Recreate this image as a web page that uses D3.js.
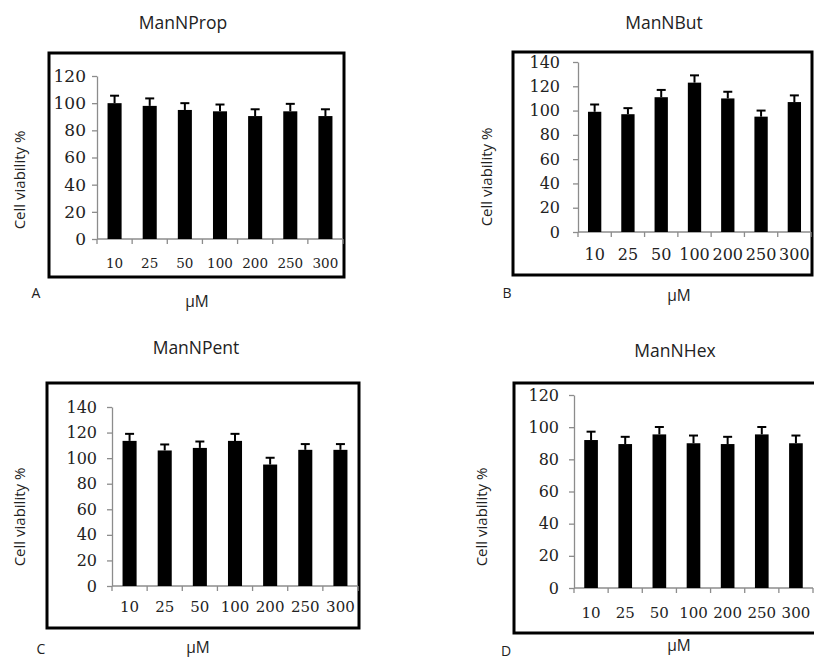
<!DOCTYPE html>
<html>
<head>
<meta charset="utf-8">
<script src="https://cdn.jsdelivr.net/npm/d3@7/dist/d3.min.js"></script>
<style>
  html, body { margin: 0; padding: 0; background: #fff; }
  svg { display: block; }
</style>
</head>
<body>
<svg id="chart" width="814" height="659"></svg>
<script>
// ---- data ----
const concentrations = ["10", "25", "50", "100", "200", "250", "300"];
const titles = ["ManNProp", "ManNBut", "ManNPent", "ManNHex"];
const panelLetters = ["A", "B", "C", "D"];
const yTitles = ["Cell viability  %", "Cell viability %", "Cell viability  %", "Cell viability %"];
const xTitle = "μM";

const manNPropMean = [100, 98, 95, 94, 90.5, 94, 90.5];
const manNPropErr  = [5.5, 5.5, 5, 5, 5, 5.5, 5];
const manNButMean  = [99, 97, 111, 123, 110, 95, 107];
const manNButErr   = [6, 5, 6, 6, 5.5, 5, 5.5];
const manNPentMean = [113.5, 106, 108, 113.5, 95, 106.5, 106.5];
const manNPentErr  = [5.5, 4.7, 5, 5.5, 5.3, 4.5, 4.5];
const manNHexMean  = [92, 89.5, 95.5, 90, 89.5, 95.5, 90];
const manNHexErr   = [5.2, 4.5, 4.6, 4.8, 4.5, 4.6, 4.8];

const yTicksA = [0, 20, 40, 60, 80, 100, 120];
const yTicksB = [0, 20, 40, 60, 80, 100, 120, 140];
const yTicksC = [0, 20, 40, 60, 80, 100, 120, 140];
const yTicksD = [0, 20, 40, 60, 80, 100, 120];

// ---- layout (per panel) ----
const panels = [
  { mean: manNPropMean, err: manNPropErr, ticks: yTicksA, yMax: 120,
    frame: [49, 53, 344, 277], x0: 97, x1: 343, yBase: 239, yTop: 76,
    xLabY: 263, xFont: 13.5, yFont: 17, yLabGap: 6,
    title: [183, 23], letter: [36, 293], mu: [197, 301], yt: [20, 180] },
  { mean: manNButMean, err: manNButErr, ticks: yTicksB, yMax: 140,
    frame: [513, 52, 812, 275], x0: 578, x1: 811, yBase: 232, yTop: 62,
    xLabY: 254, xFont: 16, yFont: 16, yLabGap: 13,
    title: [664, 23], letter: [507, 293], mu: [679, 295], yt: [487, 177] },
  { mean: manNPentMean, err: manNPentErr, ticks: yTicksC, yMax: 140,
    frame: [47, 383, 359, 628], x0: 112, x1: 358, yBase: 586, yTop: 407,
    xLabY: 607, xFont: 15, yFont: 16, yLabGap: 10,
    title: [196, 348], letter: [41, 649], mu: [198, 647], yt: [20, 517] },
  { mean: manNHexMean, err: manNHexErr, ticks: yTicksD, yMax: 120,
    frame: [514, 383, 824, 633], x0: 574, x1: 813, yBase: 588, yTop: 395,
    xLabY: 613, xFont: 15, yFont: 16, yLabGap: 10,
    title: [675, 351], letter: [506, 651], mu: [679, 645], yt: [482, 517] }
];

const svg = d3.select("#chart");
const sans = "'Open Sans', 'Liberation Sans', sans-serif";
const serif = "'DejaVu Serif', serif";
const axisGray = "#8c8c8c";

panels.forEach((p, i) => {
  const g = svg.append("g");

  const x = d3.scaleBand().domain(concentrations).range([p.x0, p.x1]).paddingInner(0).paddingOuter(0);
  const y = d3.scaleLinear().domain([0, p.yMax]).range([p.yBase, p.yTop]);

  // frame
  g.append("rect")
    .attr("x", p.frame[0]).attr("y", p.frame[1])
    .attr("width", p.frame[2] - p.frame[0]).attr("height", p.frame[3] - p.frame[1])
    .attr("fill", "none").attr("stroke", "#000").attr("stroke-width", 3);

  // y axis
  const yAxis = d3.axisLeft(y).tickValues(p.ticks).tickSize(5).tickPadding(p.yLabGap).tickSizeOuter(0);
  const ya = g.append("g").attr("transform", `translate(${p.x0},0)`).call(yAxis);
  ya.select(".domain").attr("stroke", axisGray).attr("stroke-width", 1.3);
  ya.selectAll(".tick line").attr("stroke", axisGray).attr("stroke-width", 1.3);
  ya.selectAll(".tick text").attr("font-family", serif).attr("font-size", p.yFont).attr("fill", "#222");

  // x axis baseline + boundary ticks
  g.append("line")
    .attr("x1", p.x0).attr("x2", p.x1).attr("y1", p.yBase).attr("y2", p.yBase)
    .attr("stroke", axisGray).attr("stroke-width", 1.3);
  const bounds = concentrations.map(c => x(c)).concat([x(concentrations[concentrations.length - 1]) + x.bandwidth()]);
  g.selectAll(".xb").data(bounds).enter().append("line")
    .attr("x1", d => d).attr("x2", d => d)
    .attr("y1", p.yBase).attr("y2", p.yBase + 5)
    .attr("stroke", axisGray).attr("stroke-width", 1.3);

  // x labels
  g.selectAll(".xl").data(concentrations).enter().append("text")
    .attr("x", d => x(d) + x.bandwidth() / 2)
    .attr("y", p.xLabY)
    .attr("dy", "0.36em")
    .attr("text-anchor", "middle")
    .attr("font-family", serif).attr("font-size", p.xFont).attr("fill", "#222")
    .text(d => d);

  // bars
  const bw = x.bandwidth() * 0.4;
  const data = concentrations.map((c, k) => ({ c, v: p.mean[k], e: p.err[k] }));
  g.selectAll(".bar").data(data).enter().append("rect")
    .attr("x", d => x(d.c) + (x.bandwidth() - bw) / 2)
    .attr("y", d => y(d.v))
    .attr("width", bw)
    .attr("height", d => y(0) - y(d.v))
    .attr("fill", "#000");

  // error bars (upper)
  g.selectAll(".err").data(data).enter().append("line")
    .attr("x1", d => x(d.c) + x.bandwidth() / 2)
    .attr("x2", d => x(d.c) + x.bandwidth() / 2)
    .attr("y1", d => y(d.v))
    .attr("y2", d => y(d.v + d.e))
    .attr("stroke", "#000").attr("stroke-width", 2);
  g.selectAll(".cap").data(data).enter().append("line")
    .attr("x1", d => x(d.c) + x.bandwidth() / 2 - 4.5)
    .attr("x2", d => x(d.c) + x.bandwidth() / 2 + 4.5)
    .attr("y1", d => y(d.v + d.e))
    .attr("y2", d => y(d.v + d.e))
    .attr("stroke", "#000").attr("stroke-width", 2);

  // titles and labels
  g.append("text").attr("x", p.title[0]).attr("y", p.title[1]).attr("dy", "0.36em")
    .attr("text-anchor", "middle").attr("font-family", sans).attr("font-size", 17.5).attr("fill", "#222")
    .text(titles[i]);
  g.append("text").attr("x", p.letter[0]).attr("y", p.letter[1]).attr("dy", "0.36em")
    .attr("text-anchor", "middle").attr("font-family", sans).attr("font-size", 14).attr("fill", "#222")
    .text(panelLetters[i]);
  g.append("text").attr("x", p.mu[0]).attr("y", p.mu[1]).attr("dy", "0.36em")
    .attr("text-anchor", "middle").attr("font-family", sans).attr("font-size", 15.5).attr("fill", "#222")
    .text(xTitle);
  g.append("text")
    .attr("transform", `translate(${p.yt[0]},${p.yt[1]}) rotate(-90)`)
    .attr("dy", "0.36em")
    .attr("text-anchor", "middle").attr("font-family", sans).attr("font-size", 15).attr("fill", "#222")
    .text(yTitles[i]);
});
</script>
</body>
</html>
